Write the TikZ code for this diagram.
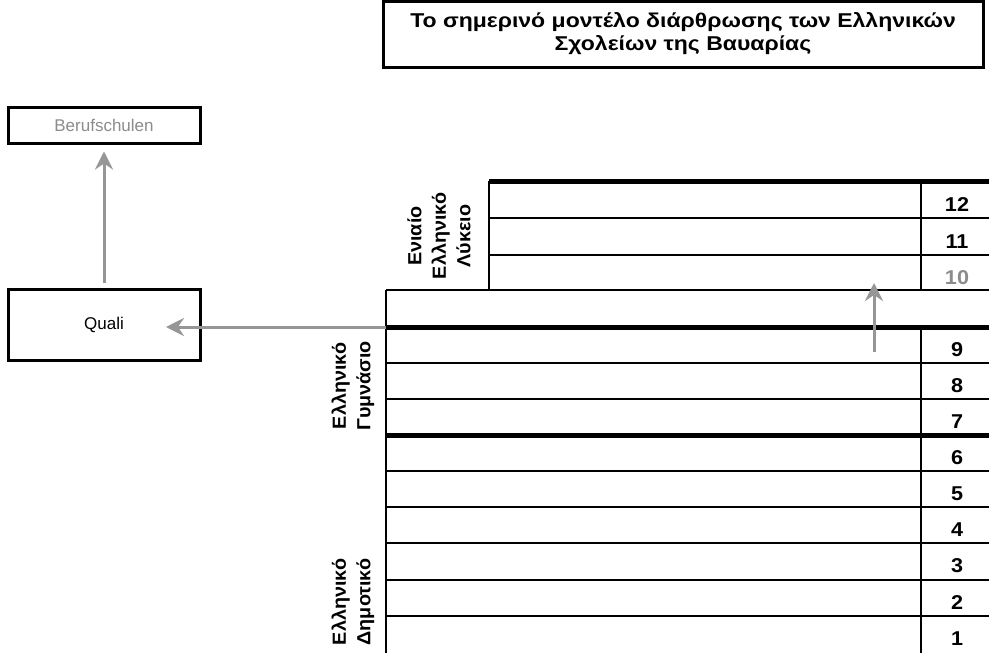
\documentclass[tikz,border=0pt]{standalone}
\usepackage{fontspec}
\setmainfont{Liberation Sans}
\usetikzlibrary{arrows.meta}
\definecolor{arrowgray}{RGB}{150,150,150}
\definecolor{txtgray}{RGB}{140,140,140}
\begin{document}
\begin{tikzpicture}[x=1pt,y=-1pt,
  boxst/.style={draw=black,line width=3pt,inner sep=0pt,fill=white},
  thinline/.style={line width=1.5pt},
  thickline/.style={line width=5pt},
  garrow/.style={draw=arrowgray,line width=3pt,-{Stealth[length=18pt,width=18pt,inset=6pt]}},
  num/.style={font=\fontsize{20}{20}\selectfont\bfseries,xscale=1.08},
  vlabel/.style={rotate=90,xscale=1.04,align=center,font=\fontsize{19}{24.5}\selectfont\bfseries,inner sep=0pt}
]
\useasboundingbox (0,0) rectangle (989,653);
\fill[white] (0,0) rectangle (989,653);

% title
\node[boxst, minimum width=600pt, minimum height=66pt, align=center,
      font=\fontsize{20}{23}\selectfont\bfseries] (title) at (683,34)
  {\scalebox{1.15}[1]{Το σημερινό μοντέλο διάρθρωσης των Ελληνικών}\\\scalebox{1.15}[1]{Σχολείων της Βαυαρίας}};

% left boxes
\node[boxst, minimum width=192pt, minimum height=36pt, text=txtgray,
      font=\fontsize{17}{17}\selectfont] (beruf) at (104,125) {Berufschulen};
\node[boxst, minimum width=192pt, minimum height=71pt,
      font=\fontsize{17}{17}\selectfont] (quali) at (104,324.5) {Quali};

% table lines
\foreach \y in {218,255} \draw[thinline] (489,\y) -- (989,\y);
\draw[thinline] (386,290) -- (989,290);
\foreach \y in {363,399,471,507,543,580,616} \draw[thinline] (386,\y) -- (989,\y);
\draw[thinline] (489,181) -- (489,290);
\draw[thinline] (386,290) -- (386,653);
\draw[thinline] (921,181) -- (921,290);
\draw[thinline] (921,327) -- (921,653);
\draw[thickline] (489,181) -- (989,181);
\draw[thickline] (386,327) -- (989,327);
\draw[thickline] (386,435) -- (989,435);

% numbers
\node[num] (n12) at (957,205) {12};
\node[num] (n11) at (957,242) {11};
\node[num,text=txtgray] (n10) at (957,278) {10};
\node[num] (n9) at (957,350) {9};
\node[num] (n8) at (957,386) {8};
\node[num] (n7) at (957,422) {7};
\node[num] (n6) at (957,458) {6};
\node[num] (n5) at (957,494) {5};
\node[num] (n4) at (957,530) {4};
\node[num] (n3) at (957,566) {3};
\node[num] (n2) at (957,603) {2};
\node[num] (n1) at (957,639) {1};

% rotated labels
\node[vlabel] (lyk) at (439,236) {Ενιαίο\\Ελληνικό\\Λύκειο};
\node[vlabel] (gym) at (353,386) {Ελληνικό\\Γυμνάσιο};
\node[vlabel] (dim) at (353,602) {Ελληνικό\\Δημοτικό};

% arrows
\coordinate (tblleft) at (386,327);
\coordinate (qtip) at (166,327);
\coordinate (upstart) at (874,352);
\coordinate (upend) at (874,283);
\draw[garrow] (tblleft) -- (qtip);
\draw[garrow] (upstart) -- (upend);
\draw[garrow,shorten <=5pt,shorten >=7pt] (quali.north) -- (beruf.south);
\end{tikzpicture}
\end{document}
